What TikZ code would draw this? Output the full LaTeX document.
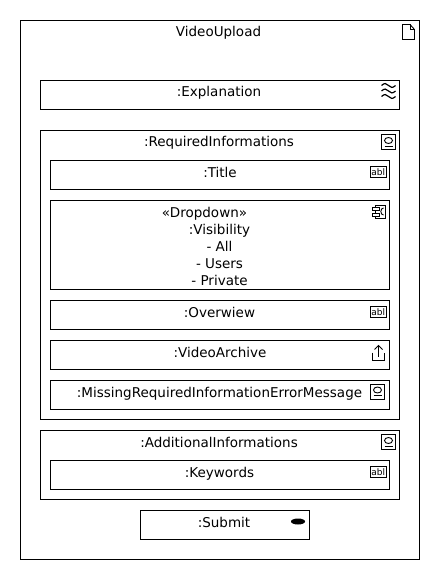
\documentclass[tikz,border=0pt]{standalone}
\usepackage{fontspec}
\setmainfont{DejaVu Sans}
\usepackage{tikz}
\tikzset{
  boxline/.style={color=black,line width=1pt},
  lbl/.style={font=\fontsize{13.5}{17}\selectfont,inner sep=0pt,align=center,anchor=base},
  thin icon/.style={color=black,line width=0.9pt},
  ablicon/.pic={
    \draw[thin icon] (0,0) rectangle (15.5,11);
    \node[font=\fontsize{9}{9}\selectfont,inner sep=0pt] (-txt) at (7.75,5.2) {abl};
  },
  groupicon/.pic={
    \draw[thin icon] (0,0) rectangle (14,15);
    \draw[thin icon] (7,6) ellipse (4 and 3);
    \draw[thin icon] (3,11.5) -- (11,11.5);
  },
}
\begin{document}
\begin{tikzpicture}[x=1pt,y=-1pt]
\useasboundingbox (0,0) rectangle (440,580);
\fill[color=white] (0,0) rectangle (440,580);
\draw[boxline] (20.5,20.5) rectangle (419.5,559.5);
\node[lbl] (videoupload) at (218.5,37) {VideoUpload};
\draw[thin icon] (402.5,24.5) -- (410,24.5) -- (414.5,29.5) -- (414.5,39.5) -- (402.5,39.5) -- cycle;
\draw[thin icon] (410,24.5) -- (410,29.5) -- (414.5,29.5);
\begin{scope}[shift={(40.5,80.5)}] %Explanation
  \draw[boxline] (0,0) rectangle (359,29);
  \node[lbl] (explanation) at (178.5,16.5) {:Explanation};
  \foreach \y in {5,10.5,16} {
    \draw[color=black,line width=1.2pt] (341,\y) .. controls (344,\y-3) and (346,\y-2) .. (348,\y) .. controls (350,\y+2) and (352,\y+3) .. (355,\y);
  }
\end{scope}
\begin{scope}[shift={(40.5,130.5)}] %RequiredInformations
  \draw[boxline] (0,0) rectangle (359,289);
  \node[lbl] (requiredinformations) at (178.5,16.5) {:RequiredInformations};
  \pic at (341,4) {groupicon};
\end{scope}
\begin{scope}[shift={(50.5,160.5)}] %Title
  \draw[boxline] (0,0) rectangle (339,29);
  \node[lbl] (title) at (169.5,16.5) {:Title};
  \pic at (320,6) {ablicon};
\end{scope}
\begin{scope}[shift={(50.5,200.5)}] %Visibility
  \draw[boxline] (0,0) rectangle (339,89);
  \node[lbl] (stereotype) at (154,16.5) {«Dropdown»};
  \node[lbl] (visibility) at (169,33.5) {:Visibility};
  \node[lbl] (all) at (169,50.5) {- All};
  \node[lbl] (users) at (169,67.5) {- Users};
  \node[lbl] (private) at (169,84.5) {- Private};
  \draw[thin icon] (325,5) rectangle (334.5,17.5);
  \draw[thin icon,fill=white] (321.5,7) rectangle (328.5,10);
  \draw[thin icon,fill=white] (321.5,12.5) rectangle (328.5,15.5);
  \draw[thin icon] (333,7.5) .. controls (329.5,7.5) and (329.5,14.5) .. (333,14.5);
\end{scope}
\begin{scope}[shift={(50.5,300.5)}] %Overview
  \draw[boxline] (0,0) rectangle (339,29);
  \node[lbl] (overview) at (169,16.5) {:Overwiew};
  \pic at (320,6) {ablicon};
\end{scope}
\begin{scope}[shift={(50.5,340.5)}] %VideoArchive
  \draw[boxline] (0,0) rectangle (339,29);
  \node[lbl] (videoarchive) at (169.5,16.5) {:VideoArchive};
  \draw[thin icon] (322,12) -- (322,20) -- (334,20) -- (334,12);
  \draw[thin icon] (328,16) -- (328,5);
  \draw[thin icon] (324,9) -- (328,5) -- (332,9);
\end{scope}
\begin{scope}[shift={(50.5,380.5)}] %MissingRequiredInformationErrorMessage
  \draw[boxline] (0,0) rectangle (339,29);
  \node[lbl] (missingmessage) at (169,16.5) {:MissingRequiredInformationErrorMessage};
  \pic at (320,3.5) {groupicon};
\end{scope}
\begin{scope}[shift={(40.5,430.5)}] %AdditionalInformations
  \draw[boxline] (0,0) rectangle (359,69);
  \node[lbl] (additionalinformations) at (178.5,16.5) {:AdditionalInformations};
  \pic at (341,4) {groupicon};
\end{scope}
\begin{scope}[shift={(50.5,460.5)}] %Keywords
  \draw[boxline] (0,0) rectangle (339,29);
  \node[lbl] (keywords) at (169,16.5) {:Keywords};
  \pic at (320,6) {ablicon};
\end{scope}
\begin{scope}[shift={(140.5,510.5)}] %Submit
  \draw[boxline] (0,0) rectangle (169,29);
  \node[lbl] (submit) at (83.5,16.5) {:Submit};
  \fill[color=black] (157.5,11) ellipse (7 and 3);
\end{scope}
\end{tikzpicture}
\end{document}
